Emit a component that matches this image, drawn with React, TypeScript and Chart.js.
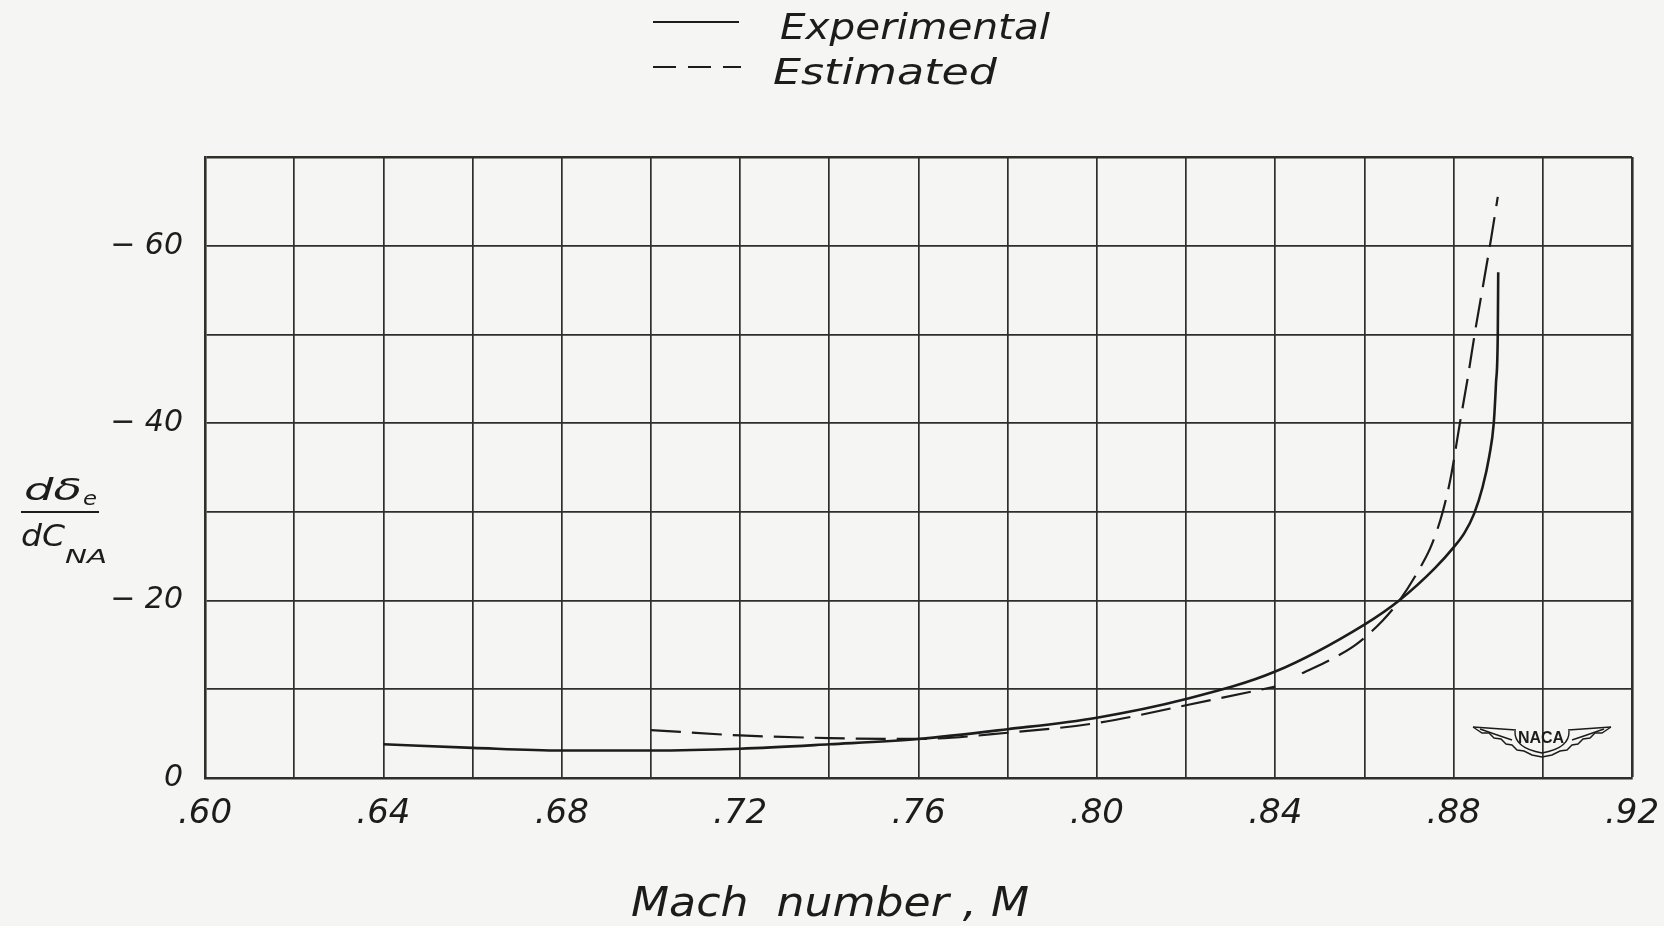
import React, { useEffect, useRef } from "react";
import { Chart, registerables } from "chart.js";

Chart.register(...registerables);

// ---- data ----
const seriesNames = ["Experimental", "Estimated"];

const expMach = [0.64, 0.66, 0.68, 0.70, 0.72, 0.74, 0.76, 0.78, 0.80, 0.82, 0.84, 0.86, 0.868, 0.8757, 0.88, 0.8824, 0.8846, 0.8865, 0.888, 0.889, 0.8895, 0.8899, 0.89];
const expSlope = [3.8, 3.4, 3.1, 3.1, 3.3, 3.8, 4.4, 5.5, 6.8, 8.9, 12.0, 17.3, 20.1, 23.6, 26.0, 27.6, 29.8, 32.8, 36.3, 40.0, 44.5, 50.0, 57.0];

const estMach = [0.70, 0.72, 0.74, 0.76, 0.78, 0.80, 0.82, 0.84, 0.843, 0.846, 0.853, 0.858, 0.864, 0.868, 0.8727, 0.875, 0.8775, 0.8794, 0.8813, 0.8831, 0.885, 0.8867, 0.8884, 0.8899];
const estSlope = [5.4, 4.8, 4.5, 4.4, 5.1, 6.2, 8.2, 10.3, null, 11.8, 13.5, 15.0, 17.7, 20.1, 23.9, 26.2, 29.9, 34.0, 39.7, 44.9, 50.9, 55.8, 60.8, 65.5];

const xGridValues = [0.60, 0.62, 0.64, 0.66, 0.68, 0.70, 0.72, 0.74, 0.76, 0.78, 0.80, 0.82, 0.84, 0.86, 0.88, 0.90, 0.92];
const xTickLabels = [".60", "", ".64", "", ".68", "", ".72", "", ".76", "", ".80", "", ".84", "", ".88", "", ".92"];
const yGridValues = [0, 10, 20, 30, 40, 50, 60, 70];
const yTickLabels = ["0", "", "\u2212 20", "", "\u2212 40", "", "\u2212 60", ""];

const xTitle = "Mach  number , M";

const INK = "#1c1c1c";
const GRID = "#2e2e2a";
const BG = "#f5f5f3";
const FONT = '"DejaVu Sans", "Liberation Sans", sans-serif';

function fitText(ctx: CanvasRenderingContext2D, text: string, x: number, y: number, w: number, font: string) {
  ctx.font = font;
  const m = ctx.measureText(text).width || 1;
  ctx.save();
  ctx.translate(x, y);
  ctx.scale(w / m, 1);
  ctx.textAlign = "left";
  ctx.textBaseline = "alphabetic";
  ctx.fillText(text, 0, 0);
  ctx.restore();
}

function drawNaca(ctx: CanvasRenderingContext2D) {
  const cx = 1542;
  ctx.save();
  ctx.strokeStyle = INK;
  ctx.fillStyle = INK;
  ctx.lineWidth = 1.4;
  for (const s of [-1, 1]) {
    ctx.beginPath();
    ctx.moveTo(cx + s * 69, 727);
    ctx.lineTo(cx + s * 26, 730);
    ctx.stroke();
    ctx.beginPath();
    ctx.moveTo(cx + s * 69, 727);
    const pts = [
      [60, 733], [53, 733], [48, 738], [41, 739], [36, 744], [30, 745], [25, 750], [18, 751], [10, 755], [0, 757],
    ];
    for (const [dx, y] of pts) ctx.lineTo(cx + s * dx, y);
    ctx.stroke();
    ctx.beginPath();
    ctx.moveTo(cx + s * 62, 729);
    ctx.quadraticCurveTo(cx + s * 45, 735, cx + s * 30, 740);
    ctx.stroke();
  }
  ctx.beginPath();
  ctx.moveTo(cx - 27, 731);
  ctx.quadraticCurveTo(cx - 28, 748, cx, 753);
  ctx.quadraticCurveTo(cx + 28, 748, cx + 27, 731);
  ctx.stroke();
  ctx.font = 'bold 16px "Liberation Sans", sans-serif';
  ctx.textAlign = "center";
  ctx.textBaseline = "middle";
  ctx.fillText("NACA", cx - 1, 739);
  ctx.restore();
}

const decorPlugin = {
  id: "decor",
  beforeDraw(chart: any) {
    const ctx = chart.ctx as CanvasRenderingContext2D;
    ctx.save();
    ctx.fillStyle = BG;
    ctx.fillRect(0, 0, chart.width, chart.height);
    ctx.restore();
  },
  afterDraw(chart: any) {
    const ctx = chart.ctx as CanvasRenderingContext2D;
    ctx.save();
    ctx.fillStyle = INK;
    ctx.strokeStyle = INK;

    // legend
    ctx.lineWidth = 2.2;
    ctx.beginPath();
    ctx.moveTo(653, 22);
    ctx.lineTo(739, 22);
    ctx.stroke();
    ctx.setLineDash([23, 12]);
    ctx.beginPath();
    ctx.moveTo(653, 67);
    ctx.lineTo(741, 67);
    ctx.stroke();
    ctx.setLineDash([]);
    fitText(ctx, seriesNames[0], 780, 39, 270, `italic 36px ${FONT}`);
    fitText(ctx, seriesNames[1], 773, 84, 224, `italic 36px ${FONT}`);

    // x axis title
    fitText(ctx, xTitle, 631, 916, 398, `italic 40px ${FONT}`);

    // y axis title: d delta_e / d C_NA
    fitText(ctx, "d\u03B4", 24, 500, 58, `italic 30px ${FONT}`);
    fitText(ctx, "e", 83, 505, 14, `italic 20px ${FONT}`);
    ctx.lineWidth = 2;
    ctx.beginPath();
    ctx.moveTo(21, 512);
    ctx.lineTo(99, 512);
    ctx.stroke();
    fitText(ctx, "dC", 21, 546, 44, `italic 30px ${FONT}`);
    fitText(ctx, "NA", 65, 563, 42, `italic 20px ${FONT}`);

    drawNaca(ctx);
    ctx.restore();
  },
};

export default function App() {
  const ref = useRef<HTMLCanvasElement | null>(null);

  useEffect(() => {
    if (!ref.current) return;
    const chart = new Chart(ref.current, {
      type: "line",
      data: {
        datasets: [
          {
            label: seriesNames[0],
            data: expMach.map((m, i) => ({ x: m, y: expSlope[i] })),
            borderColor: INK,
            borderWidth: 2.6,
            pointRadius: 0,
            fill: false,
            cubicInterpolationMode: "monotone",
          },
          {
            label: seriesNames[1],
            data: estMach.map((m, i) => ({ x: m, y: estSlope[i] })),
            borderColor: INK,
            borderWidth: 2.2,
            borderDash: [30, 11],
            pointRadius: 0,
            fill: false,
            spanGaps: false,
            cubicInterpolationMode: "monotone",
          },
        ] as any,
      },
      options: {
        animation: false,
        responsive: false,
        layout: { padding: { left: 0, top: 157, right: 32, bottom: 0 } },
        plugins: { legend: { display: false }, tooltip: { enabled: false } },
        scales: {
          x: {
            type: "linear",
            min: 0.6,
            max: 0.92,
            afterFit: (s: any) => {
              s.height = 148;
              s.paddingLeft = 0;
              s.paddingRight = 0;
            },
            afterBuildTicks: (s: any) => {
              s.ticks = xGridValues.map((v) => ({ value: v }));
            },
            ticks: {
              autoSkip: false,
              maxRotation: 0,
              padding: 16,
              color: INK,
              font: { family: FONT, size: 34, style: "italic" },
              callback: (_v: any, i: number) => xTickLabels[i],
            },
            grid: {
              color: GRID,
              lineWidth: (c: any) => (c.tick && c.tick.value === 0.92 ? 2.6 : 1.7),
              drawTicks: false,
            },
            border: { display: true, color: GRID, width: 2.6 },
          },
          y: {
            type: "linear",
            min: 0,
            max: 70,
            afterFit: (s: any) => {
              s.width = 205;
              s.paddingTop = 0;
              s.paddingBottom = 0;
            },
            afterBuildTicks: (s: any) => {
              s.ticks = yGridValues.map((v) => ({ value: v }));
            },
            ticks: {
              autoSkip: false,
              padding: 22,
              color: INK,
              font: { family: FONT, size: 30, style: "italic" },
              callback: (_v: any, i: number) => yTickLabels[i],
            },
            grid: {
              color: GRID,
              lineWidth: (c: any) => (c.tick && c.tick.value === 70 ? 2.6 : 1.7),
              drawTicks: false,
            },
            border: { display: true, color: GRID, width: 2.6 },
          },
        },
      } as any,
      plugins: [decorPlugin],
    });
    return () => chart.destroy();
  }, []);

  return (
    <div style={{ position: "fixed", left: 0, top: 0, width: 1664, height: 926, background: BG }}>
      <canvas ref={ref} width={1664} height={926} style={{ display: "block" }} />
    </div>
  );
}
